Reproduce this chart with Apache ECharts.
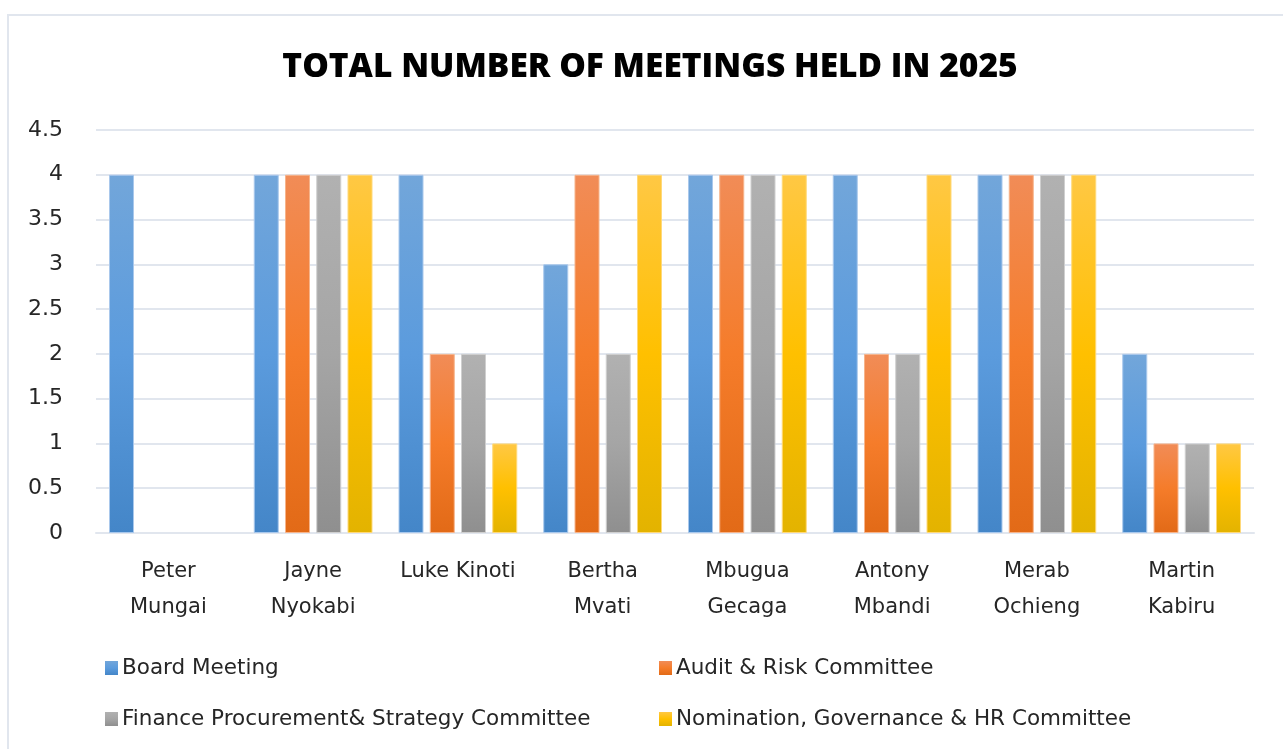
<!DOCTYPE html>
<html>
<head>
<meta charset="utf-8">
<script src="https://cdn.jsdelivr.net/npm/echarts@6/dist/echarts.min.js"></script>
<style>
  html, body { margin: 0; padding: 0; background: #ffffff; }
  #chart { width: 1283px; height: 749px; }
</style>
</head>
<body>
<div id="chart"></div>
<script>
// Board members and the meetings each one held in 2025
const members = ['Peter\nMungai', 'Jayne\nNyokabi', 'Luke Kinoti', 'Bertha\nMvati',
                 'Mbugua\nGecaga', 'Antony\nMbandi', 'Merab\nOchieng', 'Martin\nKabiru'];
const seriesNames = ['Board Meeting', 'Audit & Risk Committee',
                     'Finance Procurement& Strategy Committee', 'Nomination, Governance & HR Committee'];
const boardMeeting = [4, 4, 4, 3, 4, 4, 4, 2];
const auditRisk    = [0, 4, 2, 4, 4, 2, 4, 1];
const financeProc  = [0, 4, 2, 2, 4, 2, 4, 1];
const nomination   = [0, 4, 1, 4, 4, 4, 4, 1];
const yTicks = { min: 0, max: 4.5, interval: 0.5 };

const TITLE_FONT = '"Open Sans", "Noto Sans", sans-serif';
const FONT = '"DejaVu Sans", "Open Sans", sans-serif';
const RULE = '#e1e6ee';

function grad(top, mid, bottom) {
  return new echarts.graphic.LinearGradient(0, 0, 0, 1, [
    { offset: 0, color: top },
    { offset: 0.5, color: mid },
    { offset: 1, color: bottom }
  ]);
}

const fills = [
  grad('#72a6da', '#5b9bdd', '#4486c8'),
  grad('#f18c57', '#f57c2a', '#e26a17'),
  grad('#b1b1b1', '#a5a5a5', '#8f8f8f'),
  grad('#ffc844', '#ffc000', '#e3b300')
];
const edges = ['#a9c8ec', '#f6b48b', '#cfcfcf', '#ffd97a'];

const valueSets = [boardMeeting, auditRisk, financeProc, nomination];

const series = seriesNames.map((name, i) => ({
  name: name,
  type: 'bar',
  barWidth: 25,
  barGap: '25%',
  data: valueSets[i].map(v => ({
    value: v,
    itemStyle: v > 0 ? { borderColor: edges[i], borderWidth: 1 } : { borderWidth: 0 }
  })),
  itemStyle: { color: fills[i] }
}));

const legendText = { fontFamily: FONT, fontSize: 21.5, color: '#262626', padding: [0, 0, 0, -1] };

const chart = echarts.init(document.getElementById('chart'), null, { renderer: 'canvas' });
chart.setOption({
  animation: false,
  backgroundColor: '#ffffff',
  title: {
    text: 'TOTAL NUMBER OF MEETINGS HELD IN 2025',
    left: 645,
    textAlign: 'center',
    top: 45,
    textStyle: { fontFamily: TITLE_FONT, fontWeight: 800, fontSize: 33.5, color: '#000000' }
  },
  graphic: [{
    type: 'rect',
    shape: { x: 8, y: 15, width: 1300, height: 760 },
    style: { fill: 'none', stroke: RULE, lineWidth: 2 },
    silent: true
  }],
  legend: [
    {
      data: [seriesNames[0], seriesNames[2]],
      orient: 'vertical',
      left: 100, top: 652,
      itemWidth: 13, itemHeight: 14, itemGap: 29,
      icon: 'rect',
      textStyle: legendText
    },
    {
      data: [seriesNames[1], seriesNames[3]],
      orient: 'vertical',
      left: 654, top: 652,
      itemWidth: 13, itemHeight: 14, itemGap: 29,
      icon: 'rect',
      textStyle: legendText
    }
  ],
  grid: { left: 96, right: 29, top: 130, bottom: 216, containLabel: false },
  xAxis: {
    type: 'category',
    data: members,
    axisLine: { show: true, lineStyle: { color: RULE, width: 2 } },
    axisTick: { show: false },
    axisLabel: {
      fontFamily: FONT, fontSize: 21, color: '#262626',
      lineHeight: 36, margin: 21, interval: 0
    }
  },
  yAxis: {
    type: 'value',
    min: yTicks.min, max: yTicks.max, interval: yTicks.interval,
    axisLine: { show: false },
    axisTick: { show: false },
    splitLine: { lineStyle: { color: RULE, width: 2 } },
    axisLabel: { fontFamily: FONT, fontSize: 22, color: '#262626', margin: 33 }
  },
  series: series
});
</script>
</body>
</html>
